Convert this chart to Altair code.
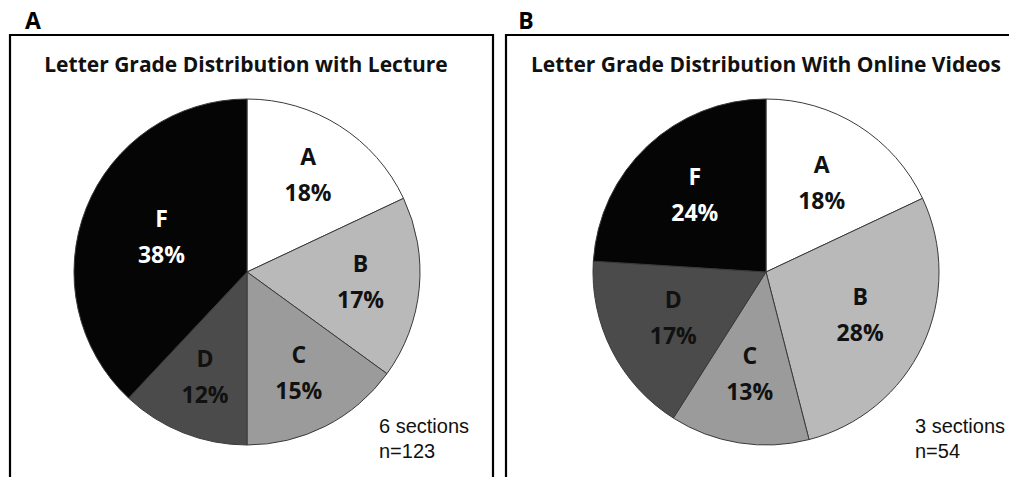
import altair as alt
import pandas as pd

grades = ["A", "B", "C", "D", "F"]
lecture_pct = [18, 17, 15, 12, 38]
video_pct = [18, 28, 13, 17, 24]
panel_letters = ["A", "B"]
panel_titles = ["Letter Grade Distribution with Lecture",
                "Letter Grade Distribution With Online Videos"]
notes = [["6 sections", "n=123"], ["3 sections", "n=54"]]

grade_colors = ["#ffffff", "#b9b9b9", "#9b9b9b", "#4b4b4b", "#050505"]


def make_df(vals):
    return pd.DataFrame({
        "grade": grades,
        "pct": vals,
        "idx": list(range(len(grades))),
        "label": [f"{g}\n{v}%" for g, v in zip(grades, vals)],
    })


df_lec = make_df(lecture_pct)
df_vid = make_df(video_pct)

W, H = 1001, 469
R = 173
FONT = "Open Sans"
LH = 36

color = alt.Color("grade:N", scale=alt.Scale(domain=grades, range=grade_colors), legend=None)
label_color = alt.condition("datum.grade == 'F'", alt.value("#ffffff"), alt.value("#111111"))
theta_mid = alt.Theta("mid:Q", stack=None, scale=alt.Scale(domain=[0, 100]))


def pie(df, cx, cy, lr, f_dr=0):
    arcs = alt.Chart(df).mark_arc(radius=R, stroke="#3a3a3a", strokeWidth=1).encode(
        theta=alt.Theta("pct:Q", stack=True),
        order=alt.Order("idx:Q"),
        fill=color,
        x=alt.value(cx),
        y=alt.value(cy),
    )
    base = alt.Chart(df).transform_window(
        cum="sum(pct)", sort=[alt.SortField("idx")], frame=[None, 0]
    ).transform_calculate(mid="datum.cum - datum.pct / 2")
    style = dict(font=FONT, fontWeight="bold", fontSize=23, lineBreak="\n",
                 lineHeight=LH, baseline="middle", align="center", dy=-LH / 2)
    enc = dict(text="label:N", color=label_color, theta=theta_mid,
               x=alt.value(cx), y=alt.value(cy))
    t_main = base.transform_filter("datum.grade != 'F'").mark_text(
        radius=lr, **style).encode(**enc)
    t_f = base.transform_filter("datum.grade == 'F'").mark_text(
        radius=lr + f_dr, **style).encode(**enc)
    return [arcs, t_main, t_f]


pie_a = pie(df_lec, 238, 264, 114, f_dr=-22)
pie_b = pie(df_vid, 757, 264, 104)

box_df = pd.DataFrame({"x": [1, 497], "x2": [484, 1004], "y": [27, 27], "y2": [472, 472]})
boxes = alt.Chart(box_df).mark_rect(fill="transparent", stroke="black", strokeWidth=2.2).encode(
    x=alt.X("x:Q", scale=None), x2="x2:Q", y=alt.Y("y:Q", scale=None), y2="y2:Q")

letters = alt.Chart(pd.DataFrame({"t": panel_letters, "x": [24, 517], "y": [3, 3]})).mark_text(
    font=FONT, fontWeight="bold", fontSize=23, baseline="top", align="center", color="black"
).encode(x=alt.X("x:Q", scale=None), y=alt.Y("y:Q", scale=None), text="t:N")

titles = alt.Chart(pd.DataFrame({"t": panel_titles, "x": [237, 757], "y": [64, 64]})).mark_text(
    font=FONT, fontWeight="bold", fontSize=21, baseline="alphabetic", align="center", color="#111111"
).encode(x=alt.X("x:Q", scale=None), y=alt.Y("y:Q", scale=None), text="t:N")

notes_df = pd.DataFrame({"t": ["\n".join(n) for n in notes], "x": [370, 906], "y": [419, 419]})
note_txt = alt.Chart(notes_df).mark_text(
    font="Liberation Sans", fontSize=20, baseline="middle", align="left", color="#111111",
    lineBreak="\n", lineHeight=25
).encode(x=alt.X("x:Q", scale=None), y=alt.Y("y:Q", scale=None), text="t:N")

chart = alt.layer(
    boxes, *pie_a, *pie_b, letters, titles, note_txt
).resolve_scale(theta="independent").properties(
    width=W, height=H, autosize=alt.AutoSizeParams(type="fit", contains="padding"), padding=0,
    background="white",
).configure_view(stroke=None)

chart.save("out.html", embed_options={"renderer": "svg", "actions": False})
